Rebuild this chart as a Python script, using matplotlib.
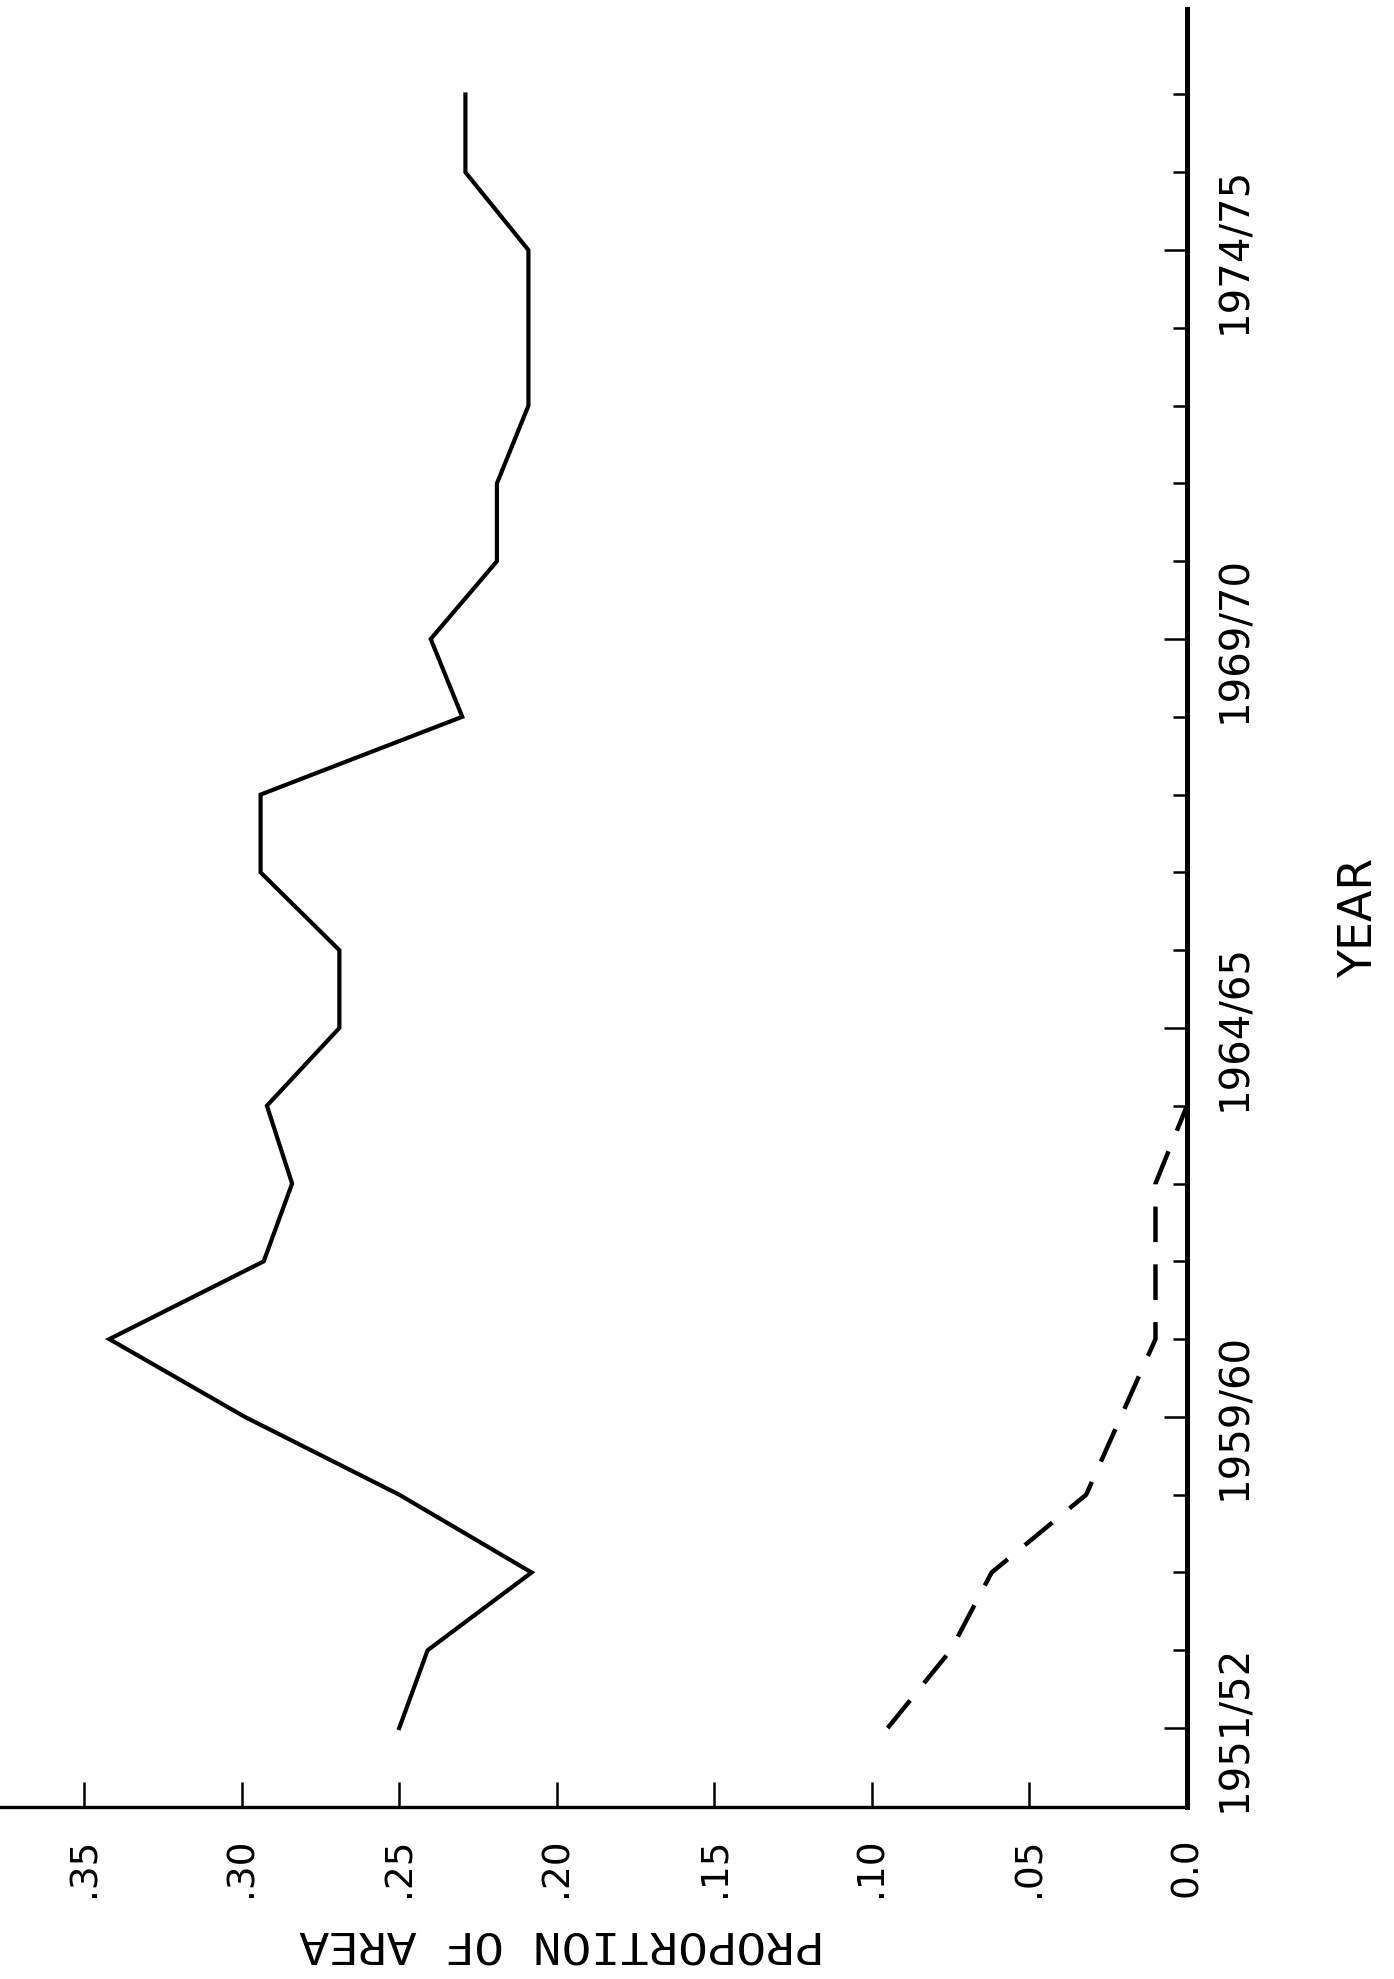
import matplotlib
matplotlib.use("Agg")
import matplotlib.pyplot as plt
from matplotlib.ticker import FixedLocator

# one slot per tick mark along the year axis, bottom to top
year_slots = list(range(22))
year_label_slots = [0, 4, 9, 14, 19]
year_labels = ["1951/52", "1959/60", "1964/65", "1969/70", "1974/75"]

# solid series
solid_slots = list(range(22))
solid_prop = [0.250, 0.241, 0.208, 0.250, 0.299, 0.342, 0.293, 0.284, 0.292, 0.269, 0.269,
              0.294, 0.294, 0.230, 0.240, 0.219, 0.219, 0.209, 0.209, 0.209, 0.229, 0.229]

# dashed series
dash_slots = list(range(9))
dash_prop = [0.095, 0.075, 0.062, 0.032, 0.021, 0.010, 0.010, 0.010, 0.0]

prop_ticks = [0.0, 0.05, 0.10, 0.15, 0.20, 0.25, 0.30, 0.35]
prop_labels = ["0.0", ".05", ".10", ".15", ".20", ".25", ".30", ".35"]

fig = plt.figure(figsize=(13.94, 19.79), dpi=100)
fig.patch.set_facecolor("white")

# the page is scanned sideways: proportion runs right-to-left, years run upward
ax = fig.add_axes([0.0, 0.0869, 0.8515, 0.9086])
ax.set_facecolor("white")

ax.plot(solid_prop, solid_slots, color="black", lw=3.0, solid_joinstyle="miter")
ax.plot(dash_prop, dash_slots, color="black", lw=3.2, ls=(0, (8, 5)))

ax.set_xlim(0.3767, 0.0)
ax.set_ylim(-1.015, 22.1)

for side in ["left", "top"]:
    ax.spines[side].set_visible(False)
ax.spines["right"].set_linewidth(3.6)
ax.spines["bottom"].set_linewidth(2.4)

ax.xaxis.set_ticks_position("bottom")
ax.set_xticks(prop_ticks)
ax.set_xticklabels(prop_labels)
ax.tick_params(axis="x", direction="in", length=18, width=1.8, pad=22,
               labelsize=27, labelrotation=90)

ax.yaxis.set_ticks_position("right")
ax.set_yticks(year_label_slots)
ax.set_yticklabels(year_labels)
ax.yaxis.set_minor_locator(FixedLocator([s for s in year_slots if s not in year_label_slots]))
ax.tick_params(axis="y", which="major", direction="in", length=16.5, width=1.8, pad=20,
               labelsize=29, labelrotation=90)
ax.tick_params(axis="y", which="minor", direction="in", length=10, width=1.8)
for lbl in ax.get_yticklabels():
    lbl.set_va("center")

fig.text(0.9756, 0.5361, "YEAR", rotation=90, ha="center", va="center", fontsize=33)
fig.text(0.4032, 0.0177, "PROPORTION OF AREA", rotation=180, ha="center", va="center",
         fontsize=35, family="Liberation Mono")

fig.savefig("out.png", dpi=100, facecolor="white")
